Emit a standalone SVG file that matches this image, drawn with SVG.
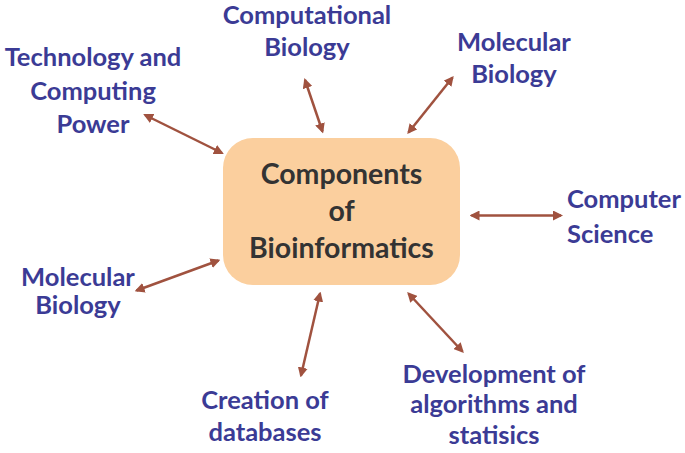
<svg xmlns="http://www.w3.org/2000/svg" width="685" height="453" viewBox="0 0 685 453">
<style>
.lbl{font-family:Lato,"Open Sans",sans-serif;font-weight:bold;font-size:25.5px;fill:#3B3B95;text-anchor:middle}
.main{font-family:Lato,"Open Sans",sans-serif;font-weight:bold;font-size:28.5px;fill:#333333;text-anchor:middle}
.con{stroke:#A0523F;stroke-width:2.5;fill:none;marker-start:url(#ah);marker-end:url(#ah)}
</style>
<defs>
<marker id="ah" viewBox="0 0 10 10" refX="8" refY="5" markerWidth="4" markerHeight="4" orient="auto-start-reverse">
<path d="M0,0 L10,5 L0,10 Z" fill="#A0523F"/>
</marker>
</defs>
<rect width="685" height="453" fill="#ffffff"/>
<g id="center">
<rect x="223" y="138" width="237" height="147" rx="30" ry="30" fill="#FBCF9E"/>
<text class="main" x="341.5" y="184">Components</text>
<text class="main" x="341.5" y="221">of</text>
<text class="main" x="341.5" y="258">Bioinformatics</text>
</g>
<g id="connectors">
<line class="con" x1="145" y1="115" x2="222" y2="153"/>
<line class="con" x1="305" y1="80" x2="322.5" y2="131.5"/>
<line class="con" x1="452.5" y1="77.5" x2="408.5" y2="132.5"/>
<line class="con" x1="471.5" y1="215.5" x2="561" y2="215.5"/>
<line class="con" x1="136.5" y1="290.5" x2="218.5" y2="260.5"/>
<line class="con" x1="320" y1="293.5" x2="301" y2="375.5"/>
<line class="con" x1="408.5" y1="293.5" x2="462.5" y2="351.5"/>
</g>
<g id="tech">
<text class="lbl" x="93" y="66">Technology and</text>
<text class="lbl" x="93" y="100">Computing</text>
<text class="lbl" x="93" y="133">Power</text>
</g>
<g id="compbio">
<text class="lbl" x="307" y="24">Computational</text>
<text class="lbl" x="307" y="56">Biology</text>
</g>
<g id="molbio-top">
<text class="lbl" x="514" y="51">Molecular</text>
<text class="lbl" x="514" y="83">Biology</text>
</g>
<g id="compsci">
<text class="lbl" x="567" y="208" style="text-anchor:start">Computer</text>
<text class="lbl" x="567" y="243" style="text-anchor:start">Science</text>
</g>
<g id="molbio-left">
<text class="lbl" x="78" y="286">Molecular</text>
<text class="lbl" x="78" y="314">Biology</text>
</g>
<g id="creation">
<text class="lbl" x="265" y="409">Creation of</text>
<text class="lbl" x="265" y="441">databases</text>
</g>
<g id="devel">
<text class="lbl" x="494" y="383">Development of</text>
<text class="lbl" x="494" y="413">algorithms and</text>
<text class="lbl" x="494" y="444">statisics</text>
</g>
</svg>
